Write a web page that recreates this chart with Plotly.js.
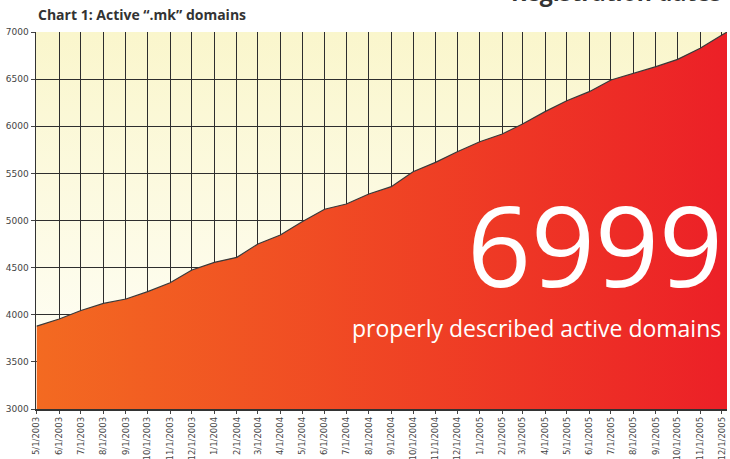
<!DOCTYPE html>
<html>
<head>
<meta charset="utf-8">
<script src="https://cdn.plot.ly/plotly-3.0.1.min.js"></script>
<style>html,body{margin:0;padding:0;background:#fff;}#chart{width:730px;height:459px;}</style>
</head>
<body>
<div id="chart"></div>
<script>
// Data
const dates = [
  '2003-05-01','2003-06-01','2003-07-01','2003-08-01','2003-09-01','2003-10-01','2003-11-01','2003-12-01',
  '2004-01-01','2004-02-01','2004-03-01','2004-04-01','2004-05-01','2004-06-01','2004-07-01','2004-08-01',
  '2004-09-01','2004-10-01','2004-11-01','2004-12-01','2005-01-01','2005-02-01','2005-03-01','2005-04-01',
  '2005-05-01','2005-06-01','2005-07-01','2005-08-01','2005-09-01','2005-10-01','2005-11-01','2005-12-01',
  '2005-12-08'
];
const activeDomains = [
  3880, 3955, 4045, 4120, 4167, 4245, 4340, 4475,
  4556, 4609, 4751, 4846, 4987, 5119, 5175, 5281,
  5359, 5518, 5617, 5730, 5836, 5918, 6024, 6155,
  6271, 6367, 6491, 6562, 6632, 6710, 6827, 6968,
  6999
];
const tickDates = dates.slice(0, 32);
const tickLabels = [
  '5/1/2003','6/1/2003','7/1/2003','8/1/2003','9/1/2003','10/1/2003','11/1/2003','12/1/2003',
  '1/1/2004','2/1/2004','3/1/2004','4/1/2004','5/1/2004','6/1/2004','7/1/2004','8/1/2004',
  '9/1/2004','10/1/2004','11/1/2004','12/1/2004','1/1/2005','2/1/2005','3/1/2005','4/1/2005',
  '5/1/2005','6/1/2005','7/1/2005','8/1/2005','9/1/2005','10/1/2005','11/1/2005','12/1/2005'
];
const yRange = [3000, 7000];
const xRange = ['2003-04-30', '2005-12-08'];
const bigNumber = '6999';
const bigCaption = 'properly described active domains';

const bgSvg = '<svg xmlns="http://www.w3.org/2000/svg" width="10" height="100" preserveAspectRatio="none">' +
  '<defs><linearGradient id="g" x1="0" y1="0" x2="0" y2="1">' +
  '<stop offset="0" stop-color="#FAF6CC"/><stop offset="1" stop-color="#FFFFFB"/></linearGradient></defs>' +
  '<rect width="10" height="100" fill="url(#g)"/></svg>';
const bgUri = 'data:image/svg+xml;base64,' + btoa(bgSvg);

const trace = {
  type: 'scatter',
  mode: 'lines',
  x: dates,
  y: activeDomains,
  fill: 'tozeroy',
  fillgradient: {type: 'horizontal', colorscale: [[0, '#F36A21'], [1, '#EC2027']]},
  line: {color: '#3a3a3a', width: 1.2},
  hoverinfo: 'x+y'
};

const layout = {
  width: 730, height: 459,
  margin: {l: 36, r: 3, t: 32, b: 50},
  paper_bgcolor: '#ffffff',
  plot_bgcolor: 'rgba(0,0,0,0)',
  showlegend: false,
  font: {family: 'DejaVu Sans, sans-serif', color: '#444'},
  xaxis: {
    type: 'date', range: xRange,
    tickmode: 'array', tickvals: tickDates, ticktext: tickLabels,
    tickangle: -90, tickfont: {size: 8.5, color: '#444'},
    ticks: 'outside', ticklen: 3, tickcolor: '#444',
    showgrid: true, gridcolor: '#2e2e2e', gridwidth: 1,
    showline: true, linecolor: '#333', linewidth: 1.5,
    zeroline: false, fixedrange: true
  },
  yaxis: {
    range: yRange, tickvals: [3000, 3500, 4000, 4500, 5000, 5500, 6000, 6500, 7000],
    tickfont: {size: 9, color: '#444'},
    ticks: 'outside', ticklen: 4, tickcolor: '#444',
    showgrid: true, gridcolor: '#2e2e2e', gridwidth: 1,
    showline: true, linecolor: '#333', linewidth: 1.5,
    zeroline: false, fixedrange: true
  },
  images: [{
    source: bgUri, xref: 'paper', yref: 'paper', x: 0, y: 1,
    sizex: 1, sizey: 1, xanchor: 'left', yanchor: 'top',
    sizing: 'stretch', layer: 'below'
  }],
  annotations: [
    {
      text: '<b>Chart 1: Active “.mk” domains</b>', xref: 'paper', yref: 'paper',
      x: 0, y: 1, xanchor: 'left', yanchor: 'bottom', yshift: 6, showarrow: false,
      font: {family: 'Open Sans, sans-serif', size: 14, color: '#333'}
    },
    {
      text: '<b>Registration dates</b>', xref: 'paper', yref: 'paper',
      x: 1, y: 1, xanchor: 'right', yanchor: 'bottom', yshift: 22, xshift: -4, showarrow: false,
      font: {family: 'Open Sans, sans-serif', size: 23, color: '#333'}
    },
    {
      text: bigNumber, xref: 'paper', yref: 'paper',
      x: 1, y: 0.5, xanchor: 'right', yanchor: 'middle', xshift: -2, yshift: -23, showarrow: false,
      font: {family: 'Open Sans, sans-serif', size: 112, color: '#ffffff'}
    },
    {
      text: bigCaption, xref: 'paper', yref: 'paper',
      x: 1, y: 0.22, xanchor: 'right', yanchor: 'middle', xshift: -4, yshift: -2, showarrow: false,
      font: {family: 'Open Sans, sans-serif', size: 23, color: '#ffffff'}
    }
  ]
};

Plotly.newPlot('chart', [trace], layout, {displayModeBar: false, staticPlot: true});
</script>
</body>
</html>
